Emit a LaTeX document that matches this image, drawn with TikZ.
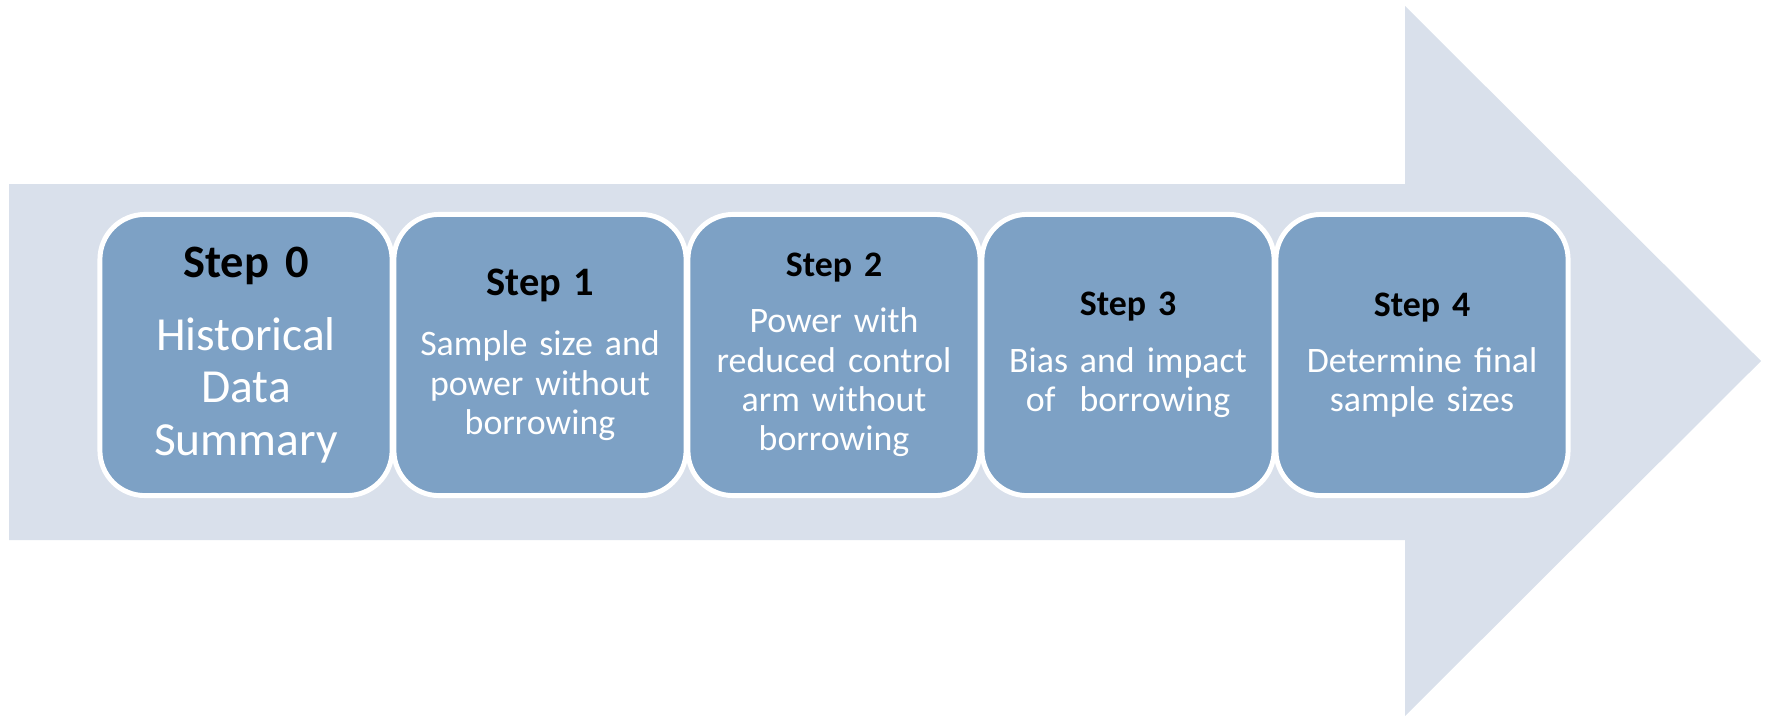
\documentclass[tikz,border=0pt]{standalone}
\usepackage{fontspec}
\setmainfont{Carlito}
\usepackage{xcolor}
\usepackage{tikz}

\definecolor{arrowgray}{RGB}{217,224,235}
\definecolor{stepblue}{RGB}{125,161,197}

\tikzset{
  bigarrow/.style={fill=arrowgray, draw=none},
  stepbox/.style={
    draw=white, line width=1.4pt, fill=stepblue, rounded corners=0.45cm,
    minimum width=2.92cm, minimum height=2.81cm, text width=2.75cm,
    align=center, inner sep=0pt, text=white,
    font=\fontsize{10.2}{11.2}\selectfont
  },
}

% bold black heading line: size, number, gap below
\newcommand{\stephead}[3]{%
  {\fontsize{#1}{#1}\selectfont\bfseries\color{black}Step #2\par}\vspace{#3}}

\begin{document}
\begin{tikzpicture}[x=0.01cm, y=-0.01cm]
  \useasboundingbox (0,0) rectangle (1770,715);

  % Background arrow
  \fill[bigarrow] (9,184) -- (1405,184) -- (1405,6) -- (1761,361)
    -- (1405,716) -- (1405,540) -- (9,540) -- cycle;

  % Steps
  \node[stepbox, font=\fontsize{13.5}{14.8}\selectfont] (s0) at (246,355)
    {\stephead{13.2}{0}{6pt}Historical\\Data\\Summary};
  \node[stepbox] (s1) at (540,355)
    {\stephead{11.5}{1}{5.8pt}Sample size and\\power without\\borrowing};
  \node[stepbox] (s2) at (834,355)
    {\stephead{10.2}{2}{4.8pt}Power with\\reduced control\\arm without\\borrowing};
  \node[stepbox] (s3) at (1128,355)
    {\stephead{10.2}{3}{4.8pt}Bias and impact\\of~ borrowing};
  \node[stepbox] (s4) at (1422,355)
    {\stephead{10.2}{4}{4.8pt}Determine final\\sample sizes};
\end{tikzpicture}
\end{document}
